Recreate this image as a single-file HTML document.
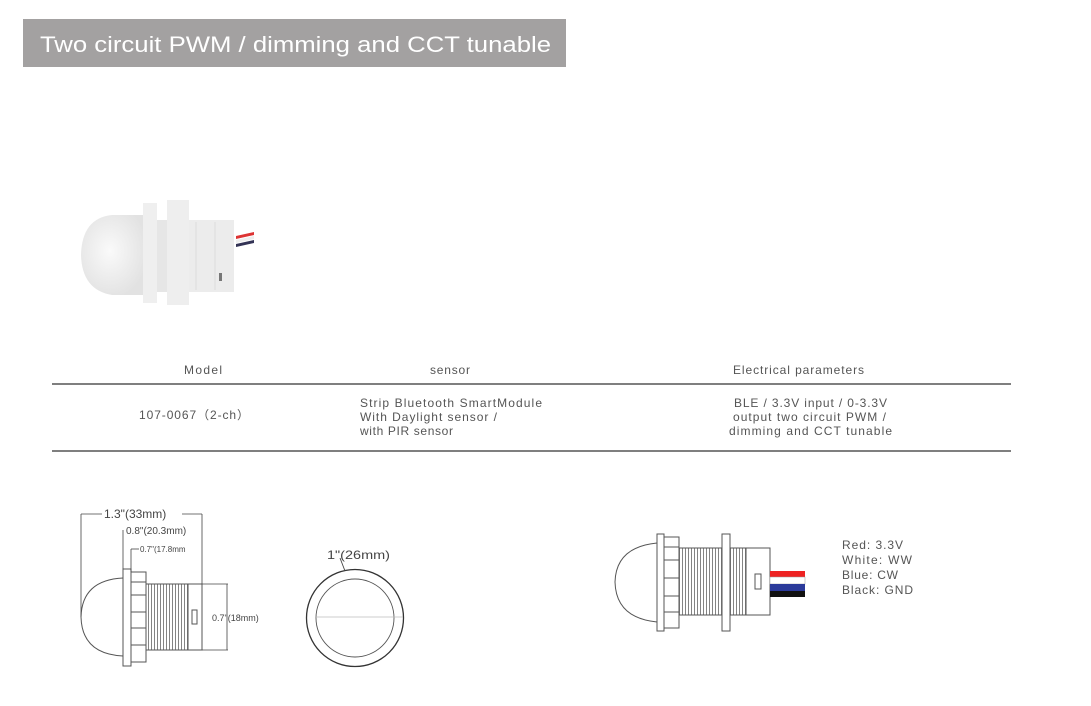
<!DOCTYPE html>
<html><head><meta charset="utf-8"><style>
body{margin:0;width:1091px;height:706px;background:#fff;overflow:hidden;font-family:"Liberation Sans",sans-serif}
svg{position:absolute;left:0;top:0}
</style></head><body>
<svg width="1091" height="706" viewBox="0 0 1091 706" font-family="Liberation Sans, sans-serif">
<defs>
<pattern id="thr" width="3" height="10" patternUnits="userSpaceOnUse"><rect width="3" height="10" fill="#fff"/><line x1="1.5" y1="0" x2="1.5" y2="10" stroke="#777" stroke-width="0.9"/></pattern>
<radialGradient id="dome" cx="0.45" cy="0.45" r="0.6"><stop offset="0" stop-color="#fafafa"/><stop offset="1" stop-color="#e2e2e2"/></radialGradient>
</defs>
<rect x="23" y="19" width="543" height="48" fill="#a3a1a1"/>
<text x="40" y="52" font-size="22" fill="#fff" textLength="511" lengthAdjust="spacingAndGlyphs">Two circuit PWM / dimming and CCT tunable</text>

<!-- photo -->
<path d="M145 215 L145 295 L112 295 Q82 290 81 255 Q82 218 112 215 Z" fill="url(#dome)"/>
<rect x="143" y="203" width="14" height="100" fill="#efefef"/>
<rect x="157" y="220" width="12" height="72" fill="#e6e6e6"/>
<rect x="167" y="200" width="22" height="105" fill="#eeeeee"/>
<rect x="189" y="220" width="45" height="72" fill="#ececec"/>
<line x1="196" y1="222" x2="196" y2="290" stroke="#ddd"/><line x1="215" y1="222" x2="215" y2="290" stroke="#ddd"/>
<polygon points="236,236 254,232 254,235 236,239" fill="#d33"/>
<polygon points="236,240 254,236 254,239 236,243" fill="#eee"/>
<polygon points="236,244 254,240 254,243 236,247" fill="#335"/>
<rect x="219" y="273" width="3" height="8" fill="#777"/>

<!-- table -->
<g font-size="12" fill="#555" lengthAdjust="spacingAndGlyphs">
<text x="184" y="374" textLength="38">Model</text>
<text x="430" y="374" textLength="40">sensor</text>
<text x="733" y="374" textLength="131">Electrical parameters</text>
<text x="139" y="419" textLength="110">107-0067（2-ch）</text>
<text x="360" y="407" textLength="182">Strip Bluetooth SmartModule</text>
<text x="360" y="421" textLength="137">With Daylight sensor /</text>
<text x="360" y="435" textLength="93">with PIR sensor</text>
<text x="734" y="407" textLength="153">BLE / 3.3V input / 0-3.3V</text>
<text x="733" y="421" textLength="153">output two circuit PWM /</text>
<text x="729" y="435" textLength="163">dimming and CCT tunable</text>
</g>
<line x1="52" y1="384" x2="1011" y2="384" stroke="#333" stroke-width="1.3"/>
<line x1="52" y1="451" x2="1011" y2="451" stroke="#333" stroke-width="1.3"/>

<!-- left drawing -->
<g stroke="#555" stroke-width="1" fill="#fff">
<path d="M123 578 Q82 580 81 617 Q82 654 123 656"/>
<rect x="123" y="569" width="8" height="97"/>
<rect x="131" y="572" width="15" height="90"/>
<line x1="131" y1="582" x2="146" y2="582"/><line x1="131" y1="595" x2="146" y2="595"/><line x1="131" y1="612" x2="146" y2="612"/><line x1="131" y1="628" x2="146" y2="628"/><line x1="131" y1="645" x2="146" y2="645"/>
<rect x="146" y="584" width="42" height="66" fill="url(#thr)"/>
<rect x="188" y="584" width="14" height="66"/>
<rect x="192" y="610" width="5" height="14"/>
</g>
<g stroke="#444" stroke-width="0.8" fill="none">
<line x1="81" y1="514" x2="81" y2="617"/><line x1="81" y1="514" x2="102" y2="514"/><line x1="182" y1="514" x2="202" y2="514"/>
<line x1="202" y1="514" x2="202" y2="584"/>
<line x1="123" y1="530" x2="123" y2="569"/><line x1="131" y1="549" x2="131" y2="572"/><line x1="131" y1="549" x2="139" y2="549"/>
<line x1="227" y1="584" x2="227" y2="650"/><line x1="202" y1="584" x2="228" y2="584"/><line x1="202" y1="650" x2="228" y2="650"/>
</g>
<g fill="#444">
<text x="104" y="518" font-size="12">1.3"(33mm)</text>
<text x="126" y="534" font-size="10">0.8"(20.3mm)</text>
<text x="140" y="552" font-size="8">0.7"(17.8mm</text>
<text x="212" y="621" font-size="9">0.7"(18mm)</text>
</g>

<!-- circle -->
<circle cx="355" cy="618" r="48.5" fill="#fff" stroke="#333" stroke-width="1.3"/>
<circle cx="355" cy="618" r="39" fill="#fff" stroke="#555" stroke-width="0.9"/>
<line x1="316" y1="617" x2="403" y2="617" stroke="#bbb" stroke-width="0.8"/>
<line x1="340" y1="558" x2="345" y2="571" stroke="#444" stroke-width="0.9"/>
<text x="327" y="559" font-size="12" fill="#444" textLength="63" lengthAdjust="spacingAndGlyphs">1"(26mm)</text>

<!-- right drawing -->
<g stroke="#555" stroke-width="1" fill="#fff">
<path d="M657 543 Q616 547 615 582 Q616 618 657 622"/>
<rect x="657" y="534" width="7" height="97"/>
<rect x="664" y="537" width="15" height="91"/>
<line x1="664" y1="547" x2="679" y2="547"/><line x1="664" y1="560" x2="679" y2="560"/><line x1="664" y1="578" x2="679" y2="578"/><line x1="664" y1="596" x2="679" y2="596"/><line x1="664" y1="612" x2="679" y2="612"/>
<rect x="679" y="548" width="43" height="67" fill="url(#thr)"/>
<rect x="722" y="534" width="8" height="97"/>
<rect x="730" y="548" width="16" height="67" fill="url(#thr)"/>
<rect x="746" y="548" width="24" height="67"/>
<rect x="755" y="574" width="6" height="15"/>
</g>
<rect x="770" y="571" width="35" height="6" fill="#e22"/>
<rect x="770" y="577" width="35" height="7" fill="#fff" stroke="#999" stroke-width="0.5"/>
<rect x="770" y="584" width="35" height="7" fill="#2b3a9a"/>
<rect x="770" y="591" width="35" height="6" fill="#111"/>
<g font-size="12" fill="#555" lengthAdjust="spacingAndGlyphs">
<text x="842" y="549" textLength="61">Red: 3.3V</text>
<text x="842" y="564" textLength="70">White: WW</text>
<text x="842" y="579" textLength="56">Blue: CW</text>
<text x="842" y="594" textLength="71">Black: GND</text>
</g>
</svg>
</body></html>
